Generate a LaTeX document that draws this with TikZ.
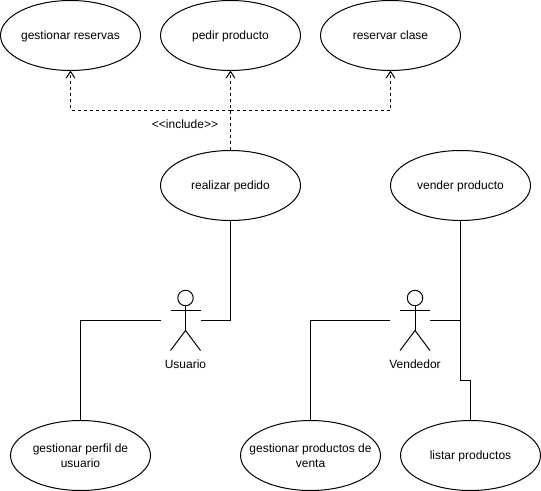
\documentclass[tikz,border=0pt]{standalone}
\usepackage{fontspec}
\setmainfont{Liberation Sans}
\usetikzlibrary{shapes}
\usetikzlibrary{arrows.meta}
\tikzset{
	caso/.style={ellipse,draw,font=\fontsize{9}{11.25}\selectfont,align=center,minimum width=105pt,minimum height=52.5pt,inner xsep=-12pt,inner ysep=0pt,outer sep=0pt,text depth=0pt},
	nombre/.style={font=\fontsize{9}{12}\selectfont,inner sep=0pt},
	include/.style={dashed,dash pattern=on 2.25pt off 2.25pt,-{Straight Barb[length=5pt,width=6.5pt]}},
	actor/.pic={
		\draw (0,-30+7.5) circle (5.8pt);
		\draw (0,-14.5) -- (0,10) (-15,-10) -- (15,-10);
		\draw (-15,30) -- (0,10) -- (15,30);
		\coordinate (-izq) at (-25,0);
		\coordinate (-der) at (15,0);
		\node [nombre] (-nombre) at (0,43.5) {#1};
	}
}

\begin{document}
\begin{tikzpicture}[x=0.75pt,y=-0.75pt,line width=0.75pt]
	\useasboundingbox (0,0) rectangle (541,491);
	\node [caso] (reservas) at (70.5,35.5) {gestionar reservas};
	\node [caso] (pedir) at (230.5,35.5) {pedir producto};
	\node [caso] (clase) at (390.5,35.5) {reservar clase};
	\node [caso] (pedido) at (230.5,185.5) {realizar pedido};
	\node [caso] (vender) at (460.5,185.5) {vender producto};
	\node [caso] (perfil) at (80.5,455.5) {gestionar perfil de\\usuario};
	\node [caso] (productos) at (310.5,455.5) {gestionar productos de\\venta};
	\node [caso] (listar) at (470.5,455.5) {listar productos};
	\pic (usuario) at (185.5,320.5) {actor={Usuario}};
	\pic (vendedor) at (415,320.5) {actor={Vendedor}};
	\coordinate (cruce) at (230.5,110.5);
	\coordinate (codo) at (460.5,380.5);
	\node [nombre] (etiqueta) at (185,124.5) {{<}{<}include{>}{>}};
	% include
	\draw [include] (pedido.north) -- (pedir.south);
	\draw [include] (cruce) -| (reservas.south);
	\draw [include] (cruce) -| (clase.south);
	% usuario
	\draw (usuario-der) -| (pedido.south);
	\draw (usuario-izq) -| (perfil.north);
	% vendedor
	\draw (vendedor-izq) -| (productos.north);
	\draw (vendedor-der) -- (vender.south |- vendedor-der);
	\draw (vender.south) -- (codo) -| (listar.north);
\end{tikzpicture}
\end{document}
